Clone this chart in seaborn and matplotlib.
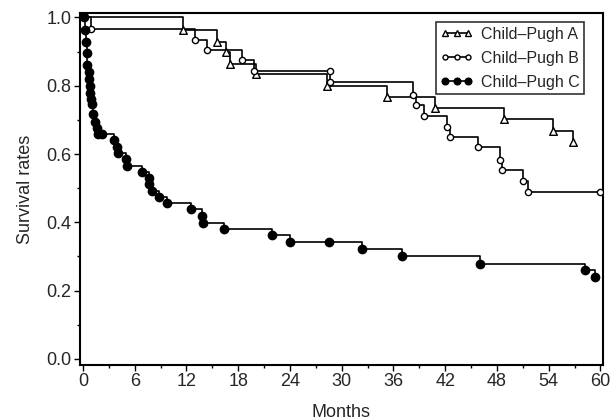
import numpy as np
import pandas as pd
import matplotlib
matplotlib.use('Agg')
import matplotlib.pyplot as plt
from matplotlib.lines import Line2D
from matplotlib.ticker import MultipleLocator
import seaborn as sns

sns.set_style('ticks')
plt.rcParams['font.family'] = ['Liberation Sans', 'DejaVu Sans']

# Kaplan-Meier points (time in months, survival rate)
a_months = [11.6, 15.5, 16.6, 17.1, 20.1, 28.3, 35.3, 40.8, 48.8, 54.5, 56.8]
a_surv = [0.962, 0.929, 0.899, 0.865, 0.834, 0.799, 0.768, 0.735, 0.704, 0.668, 0.636]

b_months = [0.9, 13.0, 14.4, 18.4, 19.8, 28.6, 28.7, 38.3, 38.6, 39.6, 42.2, 42.55,
            45.8, 48.3, 48.6, 51.0, 51.6, 59.9]
b_surv = [0.967, 0.934, 0.904, 0.874, 0.843, 0.843, 0.81, 0.773, 0.743, 0.712, 0.678, 0.651,
          0.621, 0.582, 0.552, 0.521, 0.488, 0.488]

c_months = [0.15, 0.25, 0.4, 0.45, 0.5, 0.7, 0.73, 0.8, 0.87, 0.93, 1.0, 1.2, 1.4, 1.6, 1.75,
            2.2, 3.6, 3.9, 4.1, 4.95, 5.1, 6.8, 7.6, 7.65, 7.95, 8.8, 9.8, 12.5, 13.8, 13.9,
            16.3, 21.9, 24.0, 28.5, 32.4, 37.0, 46.0, 58.2, 59.4]
c_surv = [1.0, 0.963, 0.929, 0.895, 0.862, 0.84, 0.82, 0.80, 0.78, 0.762, 0.746, 0.716, 0.695,
          0.676, 0.660, 0.660, 0.641, 0.621, 0.602, 0.584, 0.566, 0.548, 0.529, 0.511, 0.493,
          0.473, 0.456, 0.438, 0.419, 0.399, 0.380, 0.364, 0.342, 0.342, 0.322, 0.30, 0.278,
          0.260, 0.239]

groups = ['Child\u2013Pugh A', 'Child\u2013Pugh B', 'Child\u2013Pugh C']

# marker style per group: (marker, size, face)
styles = {
    groups[0]: ('^', 30, 'white'),
    groups[1]: ('o', 20, 'white'),
    groups[2]: ('o', 36, 'black'),
}

fig, ax = plt.subplots(figsize=(6.1, 4.2), dpi=100)
fig.subplots_adjust(left=0.1311, right=0.9885, bottom=0.131, top=0.969)

for name, t, s in zip(groups, [a_months, b_months, c_months], [a_surv, b_surv, c_surv]):
    # step curve starts at (0, 1)
    steps = pd.DataFrame({'Months': [0.0] + t, 'Survival': [1.0] + s})
    pts = pd.DataFrame({'Months': t, 'Survival': s})
    marker, size, face = styles[name]
    sns.lineplot(data=steps, x='Months', y='Survival', drawstyle='steps-post', color='black',
                 lw=1.2, estimator=None, sort=False, ax=ax, legend=False)
    sns.scatterplot(data=pts, x='Months', y='Survival', marker=marker, s=size, color=face,
                    edgecolor='black', linewidth=1.0, ax=ax, legend=False, zorder=3)

ax.set_xlim(-0.35, 60.3)
ax.set_ylim(-0.018, 1.013)
ax.xaxis.set_major_locator(MultipleLocator(6))
ax.xaxis.set_minor_locator(MultipleLocator(3))
ax.yaxis.set_major_locator(MultipleLocator(0.2))
ax.yaxis.set_minor_locator(MultipleLocator(0.1))
ax.yaxis.set_major_formatter(matplotlib.ticker.FormatStrFormatter('%.1f'))
ax.tick_params(which='major', direction='out', length=4, width=1, labelsize=13, pad=2, color='black')
ax.tick_params(which='minor', direction='out', length=2.5, width=1, color='black')
for sp in ax.spines.values():
    sp.set_linewidth(1.5)
    sp.set_color('black')

ax.set_xlabel('Months', fontsize=13, labelpad=10)
ax.set_ylabel('Survival rates', fontsize=13, labelpad=9)

handles = []
for name in groups:
    marker, size, face = styles[name]
    handles.append(Line2D([], [], color='black', lw=1.2, marker=marker,
                          markersize=np.sqrt(size) * 0.8, markerfacecolor=face,
                          markeredgecolor='black'))
leg = ax.legend(handles, groups, loc='upper right', bbox_to_anchor=(0.964, 0.974),
                borderaxespad=0, numpoints=3, handlelength=2.0, handletextpad=0.5,
                fontsize=11.5, frameon=True, fancybox=False, edgecolor='black',
                borderpad=0.3, labelspacing=0.55)
leg.get_frame().set_linewidth(1.2)

plt.savefig('out.png', dpi=100)
